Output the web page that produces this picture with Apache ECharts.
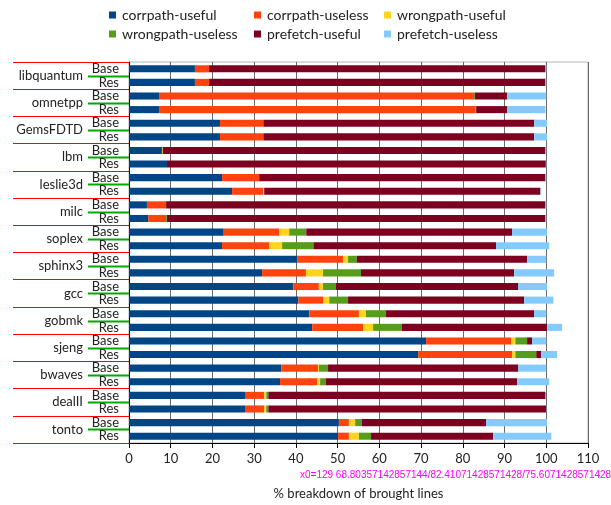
<!DOCTYPE html>
<html lang="en">
<head>
    <meta charset="UTF-8">
    <title>ECharts</title>
    <script src="https://cdn.jsdelivr.net/npm/echarts@6/dist/echarts.min.js"></script>
    <style>
        body { margin: 0; background: #fff; }
    </style>
</head>
<body>
    <div id="main" style="width: 611px;height:505px;"></div>
    <script type="text/javascript">
    // benchmarks, two runs each (Base / Res)
    var groups = ['libquantum', 'omnetpp', 'GemsFDTD', 'lbm', 'leslie3d', 'milc', 'soplex',
                  'sphinx3', 'gcc', 'gobmk', 'sjeng', 'bwaves', 'dealII', 'tonto'];
    var runs = ['Base', 'Res'];
    var xTicks = [0, 110, 10]; // min, max, interval

    // one value per row: libquantum Base, libquantum Res, omnetpp Base, ...
    var corrpathUseful   = [15.8, 15.8, 7.2, 7.2, 21.8, 21.8, 7.9, 9.1, 22.3, 24.7, 4.3, 4.6, 22.7, 22.3,
                            40.3, 31.9, 39.4, 40.6, 43.2, 43.9, 71.2, 69.3, 36.5, 36.2, 27.8, 27.8, 50.3, 50.1];
    var corrpathUseless  = [3.4, 3.4, 75.5, 75.8, 10.4, 10.4, 0, 0, 8.9, 7.5, 4.6, 4.3, 13.3, 11.3,
                            11.0, 10.5, 6.1, 5.9, 11.9, 12.2, 20.4, 22.5, 8.8, 8.9, 4.6, 4.6, 2.4, 2.6];
    var wrongpathUseful  = [0, 0, 0, 0, 0, 0, 0.2, 0, 0, 0.2, 0, 0, 2.4, 3.1,
                            1.2, 4.1, 1.0, 1.5, 1.7, 2.4, 1.0, 0.8, 0.2, 0.7, 0.5, 0.5, 1.5, 2.4];
    var wrongpathUseless = [0, 0, 0.2, 0.2, 0, 0, 0, 0, 0, 0, 0, 0.2, 4.1, 7.5,
                            2.1, 9.1, 3.1, 4.5, 4.8, 6.9, 2.8, 5.0, 2.2, 1.4, 0.5, 0.5, 1.6, 2.9];
    var prefetchUseful   = [80.6, 80.6, 7.7, 7.4, 64.9, 64.9, 91.7, 90.8, 68.6, 66.2, 90.9, 90.7, 49.3, 43.8,
                            40.8, 36.7, 43.7, 42.2, 35.5, 34.8, 1.2, 1.2, 45.6, 45.8, 66.4, 66.6, 29.8, 29.3];
    var prefetchUseless  = [0.2, 0.2, 9.4, 9.2, 3.1, 3.1, 0.2, 0.1, 0.2, 0.2, 0.2, 0.2, 8.4, 12.7,
                            4.6, 9.6, 6.9, 7.0, 2.9, 3.6, 3.4, 3.8, 6.7, 7.7, 0, 0.1, 14.6, 13.9];

    var names = ['corrpath-useful', 'corrpath-useless', 'wrongpath-useful',
                 'wrongpath-useless', 'prefetch-useful', 'prefetch-useless'];
    var colors = ['#004586', '#ff420e', '#ffd320', '#579d1c', '#7e0021', '#83caff'];
    var values = [corrpathUseful, corrpathUseless, wrongpathUseful,
                  wrongpathUseless, prefetchUseful, prefetchUseless];

    var rows = [];
    groups.forEach(function (g) {
        runs.forEach(function (r) { rows.push(r); });
    });

    var series = names.map(function (n, i) {
        return {
            name: n,
            type: 'bar',
            stack: 'all',
            barWidth: '52%',
            itemStyle: { color: colors[i] },
            data: values[i]
        };
    });

    var font = 'Lato';
    function legendCol(left, items) {
        return {
            orient: 'vertical',
            left: left,
            top: 3,
            itemWidth: 7,
            itemHeight: 7,
            itemGap: 5,
            icon: 'rect',
            data: items,
            textStyle: { fontFamily: font, fontSize: 14, color: '#222', lineHeight: 14, padding: [0, 0, 0, 1] }
        };
    }

    var myChart = echarts.init(document.getElementById('main'));
    var option = {
        animation: false,
        color: colors,
        legend: [
            legendCol(104, [names[0], names[3]]),
            legendCol(249, [names[1], names[4]]),
            legendCol(379, [names[2], names[5]])
        ],
        grid: {
            left: 129, right: 23, top: 62, bottom: 56,
            show: true, borderColor: '#b3b3b3', borderWidth: 1
        },
        xAxis: {
            type: 'value',
            min: xTicks[0],
            max: xTicks[1],
            interval: xTicks[2],
            name: '% breakdown of brought lines',
            nameLocation: 'middle',
            nameGap: 44,
            nameTextStyle: { fontFamily: font, fontSize: 13, color: '#222' },
            axisLine: { show: true, lineStyle: { color: '#000', width: 1 } },
            axisTick: { show: true, length: 5, lineStyle: { color: '#000' } },
            axisLabel: { fontFamily: font, fontSize: 13, color: '#222', margin: 9 },
            splitLine: { show: true, lineStyle: { color: '#6a6a6a', width: 1 } }
        },
        yAxis: [
            {
                // Base / Res rows
                type: 'category',
                data: rows,
                inverse: true,
                axisLine: { show: true, lineStyle: { color: '#000', width: 1 } },
                axisTick: { show: false },
                axisLabel: { interval: 0, fontFamily: font, fontSize: 13, color: '#222', margin: 10 },
                splitLine: { show: false }
            },
            {
                // benchmark names + separators between benchmarks (debug: red)
                type: 'category',
                data: groups,
                inverse: true,
                position: 'left',
                axisLine: { show: false },
                axisTick: { show: true, interval: 0, length: 116, lineStyle: { color: '#f00' } },
                axisLabel: { interval: 0, fontFamily: font, fontSize: 13, color: '#222', margin: 46 },
                splitLine: { show: false }
            }
        ],
        series: series
    };
    myChart.setOption(option);

    // short divider between Base and Res of each benchmark (debug: green)
    var x0 = myChart.convertToPixel({ xAxisIndex: 0 }, xTicks[0]);
    var dividers = [];
    var dbg = [];
    groups.forEach(function (g, k) {
        var yA = myChart.convertToPixel({ yAxisIndex: 0 }, 2 * k);
        var yB = myChart.convertToPixel({ yAxisIndex: 0 }, 2 * k + 1);
        var yG = myChart.convertToPixel({ yAxisIndex: 1 }, k);
        if (k < 3) dbg.push(String(yA) + '/' + String(yB) + '/' + String(yG));
        var y = Math.round((yA + yB) / 2) + 0.5;
        dividers.push({
            type: 'line',
            shape: { x1: x0 - 41, y1: y, x2: x0, y2: y },
            style: { stroke: '#0a0', lineWidth: 2 },
            silent: true
        });
    });
    dividers.push({
        type: 'text', left: 300, top: 470,
        style: { text: 'x0=' + x0 + ' ' + dbg.join(' | '), fill: '#f0f', fontSize: 10 }
    });
    myChart.setOption({ graphic: dividers });
    </script>
</body>
</html>
